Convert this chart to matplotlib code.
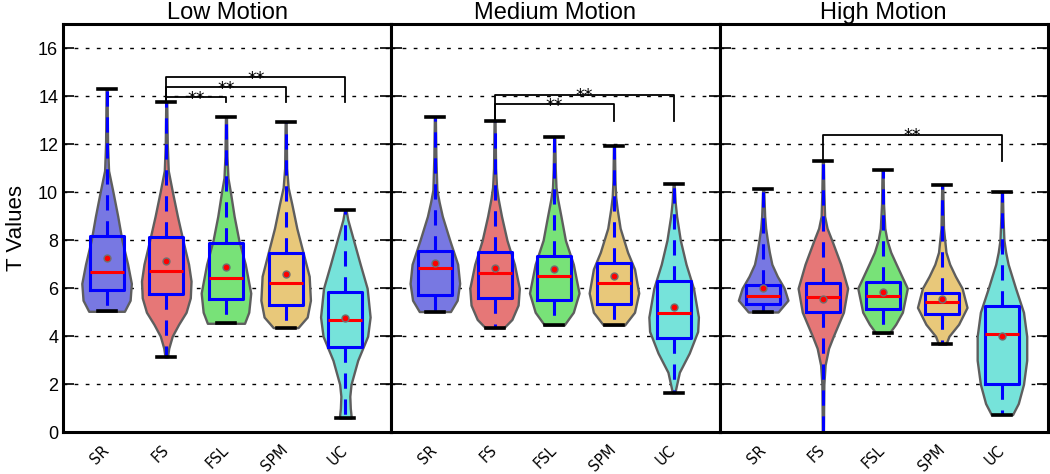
import matplotlib.pyplot as plt
import numpy as np

plt.rcParams['font.family'] = ['Liberation Sans', 'DejaVu Sans']

methods = ['SR', 'FS', 'FSL', 'SPM', 'UC']
panel_titles = ['Low Motion', 'Medium Motion', 'High Motion']
fill_colors = ['#7878e2', '#e67777', '#78e278', '#e8c87a', '#76e3da']

# box statistics, order follows `methods`
low_min = [5.04, 3.14, 4.54, 4.36, 0.60]
low_q1 = [5.93, 5.74, 5.54, 5.31, 3.56]
low_med = [6.69, 6.71, 6.42, 6.22, 4.69]
low_q3 = [8.18, 8.14, 7.88, 7.46, 5.85]
low_max = [14.29, 13.74, 13.13, 12.92, 9.25]
low_mean = [7.25, 7.14, 6.90, 6.60, 4.76]

med_min = [5.03, 4.35, 4.47, 4.47, 1.65]
med_q1 = [5.71, 5.61, 5.51, 5.36, 3.93]
med_med = [6.83, 6.63, 6.49, 6.21, 4.96]
med_q3 = [7.57, 7.50, 7.35, 7.06, 6.32]
med_max = [13.14, 12.96, 12.32, 11.93, 10.33]
med_mean = [7.04, 6.86, 6.79, 6.51, 5.21]

high_min = [5.01, -0.20, 4.13, 3.67, 0.74]
high_q1 = [5.35, 5.03, 5.15, 4.93, 2.01]
high_med = [5.68, 5.65, 5.69, 5.43, 4.08]
high_q3 = [6.13, 6.21, 6.24, 5.82, 5.24]
high_max = [10.14, 11.29, 10.92, 10.31, 10.03]
high_mean = [5.99, 5.57, 5.83, 5.56, 4.01]

# violin density profiles: T value levels and relative density
low_vy = [
    [5.04, 5.5, 6.2, 7.0, 8.0, 9.0, 10.0, 10.9, 12.0, 13.0, 14.29],
    [3.14, 3.5, 4.0, 4.5, 5.0, 5.6, 6.3, 7.0, 8.0, 9.0, 10.0, 10.9, 12.0, 13.74],
    [4.54, 5.0, 5.8, 7.0, 8.0, 9.0, 10.0, 10.6, 11.5, 13.13],
    [4.36, 4.8, 5.5, 6.5, 7.5, 8.5, 9.5, 10.2, 11.0, 12.92],
    [0.60, 1.0, 1.5, 2.0, 3.0, 4.0, 4.8, 6.0, 7.0, 8.0, 8.85, 9.25],
]
low_vd = [
    [0.72, 0.95, 1.0, 0.85, 0.62, 0.45, 0.26, 0.08, 0.04, 0.03, 0.02],
    [0.05, 0.10, 0.24, 0.50, 0.80, 0.97, 1.0, 0.90, 0.67, 0.45, 0.25, 0.08, 0.04, 0.02],
    [0.75, 0.92, 1.0, 0.78, 0.52, 0.33, 0.18, 0.08, 0.04, 0.02],
    [0.50, 0.87, 1.0, 0.95, 0.70, 0.45, 0.25, 0.10, 0.04, 0.02],
    [0.24, 0.20, 0.18, 0.23, 0.50, 0.90, 1.0, 0.88, 0.60, 0.33, 0.10, 0.03],
]
med_vy = [
    [5.03, 5.5, 6.2, 7.0, 8.0, 9.0, 9.6, 10.1, 11.5, 13.14],
    [4.35, 4.7, 5.3, 6.0, 7.0, 8.0, 9.0, 9.7, 10.2, 11.0, 12.96],
    [4.47, 5.0, 5.8, 7.0, 8.0, 9.0, 9.7, 10.2, 11.0, 12.32],
    [4.47, 5.0, 5.8, 6.8, 7.5, 8.5, 9.3, 9.8, 10.5, 11.93],
    [1.65, 2.5, 3.3, 4.2, 4.8, 6.0, 7.0, 8.0, 9.0, 9.6, 10.33],
]
med_vd = [
    [0.63, 0.90, 1.0, 0.92, 0.60, 0.30, 0.17, 0.08, 0.04, 0.02],
    [0.37, 0.70, 0.95, 1.0, 0.80, 0.50, 0.28, 0.15, 0.08, 0.04, 0.02],
    [0.40, 0.77, 1.0, 0.77, 0.45, 0.27, 0.14, 0.07, 0.04, 0.02],
    [0.43, 0.83, 1.0, 0.83, 0.55, 0.25, 0.13, 0.07, 0.04, 0.02],
    [0.05, 0.23, 0.63, 0.97, 1.0, 0.80, 0.50, 0.27, 0.12, 0.06, 0.02],
]
high_vy = [
    [5.01, 5.5, 6.0, 6.5, 7.0, 7.5, 8.0, 8.5, 9.0, 10.14],
    [-0.20, 1.0, 2.0, 2.8, 3.5, 4.0, 5.0, 6.0, 7.0, 8.0, 8.5, 9.0, 10.0, 11.29],
    [4.13, 4.5, 5.0, 6.0, 7.0, 7.5, 8.0, 8.5, 9.5, 10.92],
    [3.67, 4.0, 4.5, 5.2, 6.0, 6.5, 7.0, 7.5, 8.5, 10.31],
    [0.74, 1.2, 2.0, 3.0, 4.0, 5.0, 6.0, 7.0, 7.5, 8.0, 9.0, 10.03],
]
high_vd = [
    [0.60, 1.0, 0.85, 0.57, 0.35, 0.25, 0.17, 0.10, 0.06, 0.02],
    [0.02, 0.03, 0.04, 0.09, 0.23, 0.42, 0.83, 1.0, 0.72, 0.36, 0.17, 0.07, 0.04, 0.02],
    [0.27, 0.53, 0.80, 1.0, 0.55, 0.33, 0.18, 0.09, 0.04, 0.02],
    [0.15, 0.27, 0.66, 1.0, 0.80, 0.53, 0.30, 0.15, 0.05, 0.02],
    [0.43, 0.66, 0.87, 1.0, 1.0, 0.87, 0.55, 0.25, 0.15, 0.08, 0.04, 0.02],
]

# significance brackets: (from method, to method, bar height)
low_sig = [('FS', 'FSL', 13.96), ('FS', 'SPM', 14.37), ('FS', 'UC', 14.78)]
med_sig = [('FS', 'SPM', 13.67), ('FS', 'UC', 14.06)]
high_sig = [('FS', 'UC', 12.39)]

panels = [
    (low_min, low_q1, low_med, low_q3, low_max, low_mean, low_vy, low_vd, low_sig),
    (med_min, med_q1, med_med, med_q3, med_max, med_mean, med_vy, med_vd, med_sig),
    (high_min, high_q1, high_med, high_q3, high_max, high_mean, high_vy, high_vd, high_sig),
]

fig, axes = plt.subplots(1, 3, figsize=(10.5, 4.74), dpi=100, sharey=True)
fig.subplots_adjust(left=0.06, right=0.998, top=0.949, bottom=0.088, wspace=0)
pos = np.arange(1, len(methods) + 1)

for ax, title, (mn, q1, md, q3, mx, mean, vy, vd, sig) in zip(axes, panel_titles, panels):
    vstats = [dict(coords=y, vals=d, mean=m, median=m2, min=a, max=b)
              for y, d, m, m2, a, b in zip(vy, vd, mean, md, mn, mx)]
    vp = ax.violin(vstats, positions=pos, widths=0.83, showmeans=False,
                   showextrema=False, showmedians=False)
    for body, c in zip(vp['bodies'], fill_colors):
        body.set_facecolor(c)
        body.set_edgecolor('#5e5e5e')
        body.set_linewidth(1.7)
        body.set_alpha(1)

    bstats = [dict(whislo=a, q1=b, med=c, q3=d, whishi=e, mean=f, fliers=[])
              for a, b, c, d, e, f in zip(mn, q1, md, q3, mx, mean)]
    ax.bxp(bstats, positions=pos, widths=0.57, capwidths=0.3,
           showmeans=True, showfliers=False,
           boxprops=dict(color='blue', lw=2.2),
           whiskerprops=dict(color='blue', lw=2.2, linestyle=(0, (5, 3.5))),
           capprops=dict(color='black', lw=2.6),
           medianprops=dict(color='red', lw=2.2),
           meanprops=dict(marker='o', markerfacecolor='red',
                          markeredgecolor='#707070', markersize=5))

    for a, b, h in sig:
        x1 = methods.index(a) + 1
        x2 = methods.index(b) + 1
        base = mx[x1 - 1]
        ax.plot([x1, x1, x2, x2], [base, h, h, base], color='black', lw=1.3)
        ax.text((x1 + x2) / 2, h - 0.27, '**', ha='center', va='baseline',
                fontsize=12.5, family='DejaVu Sans')

    ax.set_xlim(0.27, 5.77)
    ax.set_ylim(0, 17)
    ax.set_yticks(range(0, 17, 2))
    ax.yaxis.grid(True, color='black', lw=1.0, linestyle=(0, (2.7, 5.3)))
    ax.set_axisbelow(True)
    ax.set_xticks(pos)
    ax.set_xticklabels(methods, rotation=45, ha='right', va='center',
                       rotation_mode='anchor', fontsize=10.5,
                       family='DejaVu Sans')
    ax.tick_params(axis='x', length=0, pad=11)
    ax.tick_params(axis='y', direction='in', length=8, width=1.2,
                   left=True, right=True, labelsize=13)
    for s in ax.spines.values():
        s.set_linewidth(2.2)
    ax.set_title(title, fontsize=17, pad=4)

axes[0].set_ylabel('T Values', fontsize=16, labelpad=8)

plt.savefig('out.png', dpi=100)
